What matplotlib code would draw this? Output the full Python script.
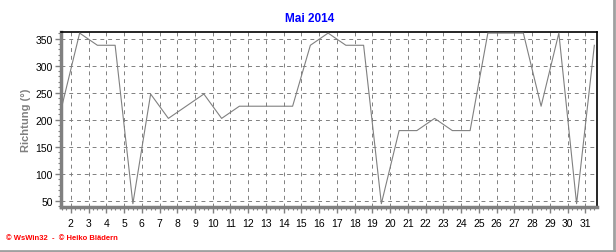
import matplotlib
matplotlib.use("Agg")
import matplotlib.pyplot as plt
from matplotlib.ticker import MultipleLocator
from matplotlib.lines import Line2D

plt.rcParams['font.family'] = ['Liberation Sans', 'DejaVu Sans']

# Tageswerte Windrichtung Mai 2014 (Grad)
days = list(range(1, 32))
richtung = [225, 360, 337.5, 337.5, 45, 247.5, 202.5, 225, 247.5, 202.5,
            225, 225, 225, 225, 337.5, 360, 337.5, 337.5, 45, 180,
            180, 202.5, 180, 180, 360, 360, 360, 225, 360, 45, 337.5]
xticks = list(range(2, 32))
yticks = [50, 100, 150, 200, 250, 300, 350]

grey = '#808080'

fig = plt.figure(figsize=(6.16, 2.53), dpi=100)
ax = fig.add_axes([61/616, 1 - 207.7/253, (597 - 61)/616, (207.7 - 33)/253])

xpos = [d + 0.5 for d in days]
ax.plot(xpos, richtung, color=grey, lw=0.8, zorder=3)

ax.set_xlim(1.45, 31.65)
ax.set_ylim(39.5, 362)
ax.set_xticks(xticks)
ax.set_yticks(yticks)
ax.xaxis.set_minor_locator(MultipleLocator(0.25))
ax.yaxis.set_minor_locator(MultipleLocator(10))

ax.grid(True, which='major', color=grey, ls=(0, (4, 4)), lw=0.7)

ax.tick_params(axis='both', which='major', labelsize=7.5, colors=grey,
               labelcolor='black', length=4, width=1)
ax.tick_params(axis='both', which='minor', colors=grey, length=2, width=0.8)
ax.tick_params(axis='x', pad=4)
ax.tick_params(axis='y', pad=2)

for s in ['left', 'bottom']:
    ax.spines[s].set_color(grey)
    ax.spines[s].set_linewidth(2.5)
for s in ['top', 'right']:
    ax.spines[s].set_color('black')
    ax.spines[s].set_linewidth(1.2)

ax.set_ylabel('Richtung (°)', color=grey, fontsize=8, fontweight='bold', labelpad=3)

fig.text(310/616, 1 - 19/253, 'Mai 2014', color='#0000ff', fontsize=8.5,
         fontweight='bold', ha='center', va='center')
fig.text(6/616, 1 - 239/253, '© WsWin32  -  © Heiko Blädern', color='red',
         fontsize=5.5, fontweight='bold', ha='left', va='center')

# Rahmen rechts und unten
fig.add_artist(Line2D([613.5/616, 613.5/616], [0, 1], color='#a0a0a0', lw=2,
                      transform=fig.transFigure))
fig.add_artist(Line2D([0, 1], [1/253, 1/253], color='#a0a0a0', lw=2,
                      transform=fig.transFigure))

fig.savefig('out.png', dpi=100)
